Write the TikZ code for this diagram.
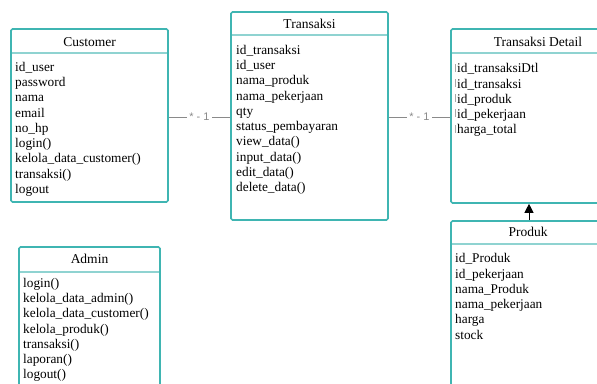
\documentclass[tikz,border=0pt]{standalone}
\usepackage{fontspec}
\setmainfont{Liberation Serif}
\setsansfont{Liberation Sans}
\usetikzlibrary{arrows.meta,calc}
\definecolor{teal1}{HTML}{3FB5B2}
\definecolor{teal2}{HTML}{8FD3D1}
\definecolor{lbl}{HTML}{8A8A8A}
\tikzset{
  cls/.style={draw=teal1, line width=1.6pt, rounded corners=1.5pt, fill=white, inner sep=0pt},
  hdr/.style={draw=teal2, line width=1.2pt},
  ttl/.style={font=\fontsize{13.5}{15}\selectfont, inner sep=0pt},
  attrs/.style={font=\fontsize{13.3}{15.25}\selectfont, align=left, anchor=north west, inner sep=0pt},
  assoc/.style={draw=lbl, line width=0.8pt},
  mult/.style={font=\sffamily\fontsize{11}{12}\selectfont, text=lbl, fill=white, inner sep=2pt},
  tick/.style={draw=black!35, line width=0.5pt}
}
\begin{document}
\begin{tikzpicture}[x=1pt,y=-1pt]
\useasboundingbox (0,0) rectangle (597,383);
\clip (0,0) rectangle (597,383);
% boxes
\node[cls, minimum width=157, minimum height=173] (cust) at (89.5,115.5) {};
\node[cls, minimum width=157, minimum height=208] (trans) at (309.5,116) {};
\node[cls, minimum width=174, minimum height=174] (td) at (538,116) {};
\node[cls, minimum width=141, minimum height=150] (adm) at (89.5,322) {};
\node[cls, minimum width=154, minimum height=182] (prod) at (528,312) {};
% header lines
\draw[hdr] (12,53) -- (167,53);
\draw[hdr] (232,35) -- (387,35);
\draw[hdr] (452,53) -- (624,53);
\draw[hdr] (20,272) -- (159,272);
\draw[hdr] (452,244) -- (604,244);
% titles
\node[ttl] (custT) at (89.5,42) {Customer};
\node[ttl] (transT) at (309.5,24) {Transaksi};
\node[ttl] (tdT) at (538,42) {Transaksi Detail};
\node[ttl] (admT) at (89.5,259) {Admin};
\node[ttl] (prodT) at (528,232) {Produk};
% attributes
\node[attrs] (custA) at (15,62) {id\_user\\password\\nama\\email\\no\_hp\\login()\\kelola\_data\_customer()\\transaksi()\\logout};
\node[attrs] (transA) at (236,45) {id\_transaksi\\id\_user\\nama\_produk\\nama\_pekerjaan\\qty\\status\_pembayaran\\view\_data()\\input\_data()\\edit\_data()\\delete\_data()};
\node[attrs] (tdA) at (457,63.5) {id\_transaksiDtl\\id\_transaksi\\id\_produk\\id\_pekerjaan\\harga\_total};
\node[attrs] (admA) at (23,278) {login()\\kelola\_data\_admin()\\kelola\_data\_customer()\\kelola\_produk()\\transaksi()\\laporan()\\logout()};
\node[attrs] (prodA) at (455,253.5) {id\_Produk\\id\_pekerjaan\\nama\_Produk\\nama\_pekerjaan\\harga\\stock};
% small marks before TD attributes
\foreach \yy in {68,83,98,113,129} {\draw[tick] (455,\yy-4) -- (455,\yy+4);}
% associations
\draw[assoc] (cust.east |- 0,117) -- node[mult] (m1) {* - 1} (trans.west |- 0,117);
\draw[assoc] (trans.east |- 0,117) -- node[mult] (m2) {* - 1} (td.west |- 0,117);
% arrow
\draw[line width=0.9pt, -{Triangle[width=9pt,length=9pt]}] (prod.north -| 529,0) -- (td.south -| 529,0);
\end{tikzpicture}
\end{document}
